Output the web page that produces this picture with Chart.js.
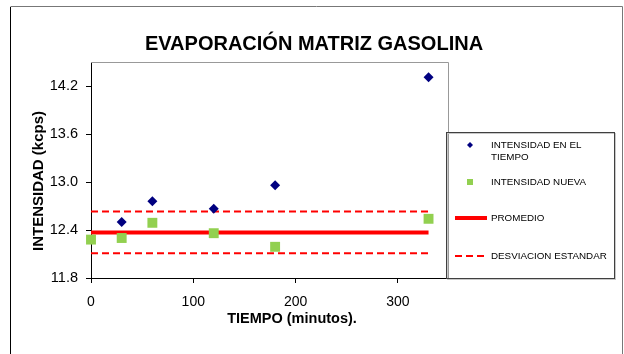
<!DOCTYPE html>
<html>
<head>
<meta charset="utf-8">
<script src="https://cdn.jsdelivr.net/npm/chart.js@4"></script>
<style>
  html, body { margin: 0; padding: 0; background: #fff; }
  #chart { display: block; }
</style>
</head>
<body>
<canvas id="chart" width="624" height="354"></canvas>
<script>
// data
const tiempoAzul = [30, 60, 120, 180, 330];
const intensidadTiempo = [12.50, 12.76, 12.665, 12.96, 14.31];
const tiempoVerde = [0, 30, 60, 120, 180, 330];
const intensidadNueva = [12.28, 12.30, 12.49, 12.36, 12.19, 12.54];
const rangoTiempo = [0, 330];
const promedio = [12.37, 12.37];
const desvSuperior = [12.63, 12.63];
const desvInferior = [12.11, 12.11];
const xTicks = [0, 100, 200, 300];
const yTicks = [11.8, 12.4, 13.0, 13.6, 14.2];
const seriesLabels = ["INTENSIDAD EN EL TIEMPO", "INTENSIDAD NUEVA", "PROMEDIO", "DESVIACION ESTANDAR"];

const FONT = "'Liberation Sans', Arial, sans-serif";
const AZUL = "#000080";
const VERDE = "#92D050";
const ROJO = "#FF0000";

const toPoints = (xs, ys) => xs.map((x, i) => ({ x: x, y: ys[i] }));

// frame, titles and the hand-laid legend
const decor = {
  id: "decor",
  beforeDraw(chart) {
    const ctx = chart.ctx;
    ctx.save();
    ctx.fillStyle = "#fff";
    ctx.fillRect(0, 0, chart.width, chart.height);
    ctx.lineWidth = 1;
    ctx.strokeStyle = "#000";
    ctx.beginPath();
    ctx.moveTo(10.5, 7);
    ctx.lineTo(10.5, 354);
    ctx.stroke();
    ctx.strokeStyle = "#777";
    ctx.beginPath();
    ctx.moveTo(10.5, 6.5);
    ctx.lineTo(622.5, 6.5);
    ctx.lineTo(622.5, 354);
    ctx.stroke();
    ctx.restore();
  },
  beforeDatasetsDraw(chart) {
    const { ctx, chartArea: a } = chart;
    ctx.save();
    ctx.strokeStyle = "#999";
    ctx.lineWidth = 1;
    ctx.beginPath();
    ctx.moveTo(a.left, a.top + 0.5);
    ctx.lineTo(a.right - 0.5, a.top + 0.5);
    ctx.lineTo(a.right - 0.5, a.bottom);
    ctx.stroke();
    ctx.restore();
  },
  afterDraw(chart) {
    const ctx = chart.ctx;
    ctx.save();
    ctx.fillStyle = "#000";
    ctx.textAlign = "center";
    ctx.textBaseline = "middle";
    ctx.font = "bold 20px " + FONT;
    ctx.fillText("EVAPORACIÓN MATRIZ GASOLINA", 314, 44);

    ctx.font = "bold 14.5px " + FONT;
    ctx.fillText("TIEMPO (minutos).", 292, 319);

    ctx.save();
    ctx.translate(38.5, 181);
    ctx.rotate(-Math.PI / 2);
    ctx.font = "bold 15px " + FONT;
    ctx.fillText("INTENSIDAD (kcps)", 0, 0);
    ctx.restore();

    // legend box
    ctx.strokeStyle = "#c8c8c8";
    ctx.strokeRect(447.5, 133.5, 168, 146);
    ctx.strokeStyle = "#404040";
    ctx.strokeRect(446.5, 132.5, 168, 146);

    ctx.textAlign = "left";
    ctx.font = "9.8px " + FONT;
    const tx = 491;

    // diamond
    ctx.fillStyle = AZUL;
    ctx.beginPath();
    ctx.moveTo(470, 142); ctx.lineTo(473, 145); ctx.lineTo(470, 148); ctx.lineTo(467, 145);
    ctx.closePath();
    ctx.fill();
    ctx.fillStyle = "#000";
    ctx.fillText("INTENSIDAD EN EL", tx, 145);
    ctx.fillText("TIEMPO", tx, 157);

    // square
    ctx.fillStyle = VERDE;
    ctx.fillRect(467, 179, 6, 6);
    ctx.fillStyle = "#000";
    ctx.fillText(seriesLabels[1], tx, 182);

    // solid line
    ctx.strokeStyle = ROJO;
    ctx.lineWidth = 4;
    ctx.beginPath();
    ctx.moveTo(455, 218); ctx.lineTo(487, 218);
    ctx.stroke();
    ctx.fillText(seriesLabels[2], tx, 218);

    // dashed line
    ctx.lineWidth = 2;
    ctx.setLineDash([7, 4]);
    ctx.beginPath();
    ctx.moveTo(455, 256); ctx.lineTo(487, 256);
    ctx.stroke();
    ctx.setLineDash([]);
    ctx.fillText(seriesLabels[3], tx, 256);
    ctx.restore();
  }
};

new Chart(document.getElementById("chart"), {
  type: "scatter",
  data: {
    datasets: [
      {
        label: seriesLabels[0],
        data: toPoints(tiempoAzul, intensidadTiempo),
        pointStyle: "rectRot",
        pointRadius: 5,
        backgroundColor: AZUL,
        borderColor: AZUL,
        borderWidth: 0,
        clip: false,
        order: 1,
      },
      {
        label: seriesLabels[1],
        data: toPoints(tiempoVerde, intensidadNueva),
        pointStyle: "rect",
        pointRadius: 7,
        backgroundColor: VERDE,
        borderColor: VERDE,
        borderWidth: 0,
        clip: false,
        order: 0,
      },
      {
        label: seriesLabels[2],
        data: toPoints(rangoTiempo, promedio),
        showLine: true,
        pointRadius: 0,
        borderColor: ROJO,
        borderWidth: 4,
        clip: false,
        order: 2,
      },
      {
        label: seriesLabels[3],
        data: toPoints(rangoTiempo, desvSuperior),
        showLine: true,
        pointRadius: 0,
        borderColor: ROJO,
        borderWidth: 2,
        borderDash: [7, 4],
        clip: false,
        order: 3,
      },
      {
        label: seriesLabels[3],
        data: toPoints(rangoTiempo, desvInferior),
        showLine: true,
        pointRadius: 0,
        borderColor: ROJO,
        borderWidth: 2,
        borderDash: [7, 4],
        clip: false,
        order: 3,
      },
    ],
  },
  options: {
    responsive: false,
    animation: false,
    layout: { padding: { left: 0, top: 62, right: 175, bottom: 0 } },
    plugins: {
      legend: { display: false },
      tooltip: { enabled: false },
      title: { display: false },
    },
    scales: {
      x: {
        type: "linear",
        min: 0,
        max: 350,
        afterBuildTicks: (s) => { s.ticks = xTicks.map((v) => ({ value: v })); },
        afterFit: (s) => { s.height = 76; },
        ticks: {
          color: "#000",
          font: { family: FONT, size: 14 },
          padding: 11,
          maxRotation: 0,
          callback: (v) => String(v),
        },
        grid: { drawOnChartArea: false, tickLength: 5, color: "#000" },
        border: { color: "#000", width: 1 },
      },
      y: {
        type: "linear",
        min: 11.8,
        max: 14.5,
        afterBuildTicks: (s) => { s.ticks = yTicks.map((v) => ({ value: v })); },
        afterFit: (s) => { s.width = 91; },
        ticks: {
          color: "#000",
          font: { family: FONT, size: 14.5 },
          padding: 8,
          callback: (v) => v.toFixed(1),
        },
        grid: { drawOnChartArea: false, tickLength: 5, color: "#000" },
        border: { color: "#000", width: 1 },
      },
    },
  },
  plugins: [decor],
});
</script>
</body>
</html>
